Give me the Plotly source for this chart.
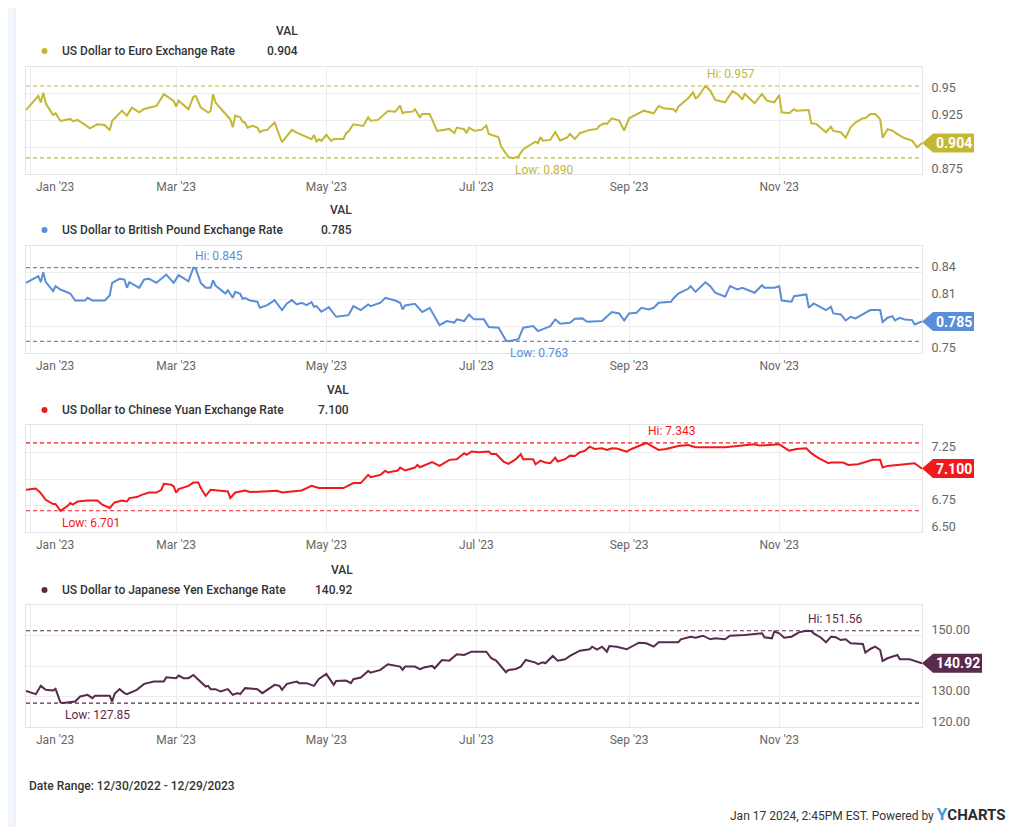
import pandas as pd
import plotly.graph_objects as go

# The page body adds an 8px margin, so the figure is placed at (8, 8) in the window.
OFF = 8
W, H = 1023 - OFF, 827 - OFF
FONT = "Roboto, 'Open Sans', sans-serif"

start_date = "2022-12-30"
end_date = "2023-12-29"

month_ticks = ["2023-01-01", "2023-03-01", "2023-05-01", "2023-07-01", "2023-09-01", "2023-11-01"]
month_labels = ["Jan '23", "Mar '23", "May '23", "Jul '23", "Sep '23", "Nov '23"]

# ---- data (day offsets from start_date, values) ----
eur_days = [0,5,6,7,8,11,12,14,18,19,21,26,29,32,34,35,39,41,43,46,48,53,56,60,61,62,66,68,69,71,74,75,76,77,80,83,84,85,87,88,89,90,92,94,95,96,98,101,104,106,108,110,112,116,117,118,119,120,122,124,125,129,130,131,133,137,139,140,143,147,150,152,153,154,157,158,160,161,164,167,172,174,175,178,179,180,182,185,187,188,192,193,196,198,200,202,207,208,209,210,213,215,217,220,221,223,225,229,232,233,235,236,238,241,243,245,251,255,257,259,263,264,265,269,271,272,273,276,278,280,284,287,289,291,292,296,299,301,304,306,307,310,312,313,318,319,321,325,327,328,331,333,335,337,340,341,343,345,347,348,350,352,354,357,360,362,364]
eur_vals = [0.9347,0.9477,0.9415,0.9508,0.9409,0.9300,0.9316,0.9244,0.9263,0.9242,0.9254,0.9176,0.9213,0.9207,0.9158,0.9244,0.9340,0.9294,0.9368,0.9325,0.9356,0.9384,0.9493,0.9430,0.9377,0.9433,0.9353,0.9470,0.9477,0.9368,0.9322,0.9337,0.9493,0.9415,0.9337,0.9260,0.9186,0.9294,0.9279,0.9238,0.9229,0.9182,0.9198,0.9182,0.9139,0.9154,0.9161,0.9229,0.9046,0.9105,0.9161,0.9136,0.9114,0.9074,0.9114,0.9052,0.9074,0.9058,0.9114,0.9058,0.9077,0.9077,0.9130,0.9145,0.9213,0.9198,0.9279,0.9247,0.9254,0.9337,0.9331,0.9387,0.9316,0.9325,0.9331,0.9353,0.9279,0.9310,0.9310,0.9151,0.9170,0.9130,0.9182,0.9167,0.9130,0.9182,0.9154,0.9161,0.9201,0.9123,0.9093,0.9005,0.8907,0.8900,0.8912,0.8981,0.9052,0.9037,0.9093,0.9061,0.9068,0.9139,0.9061,0.9093,0.9123,0.9077,0.9130,0.9161,0.9170,0.9201,0.9223,0.9217,0.9269,0.9247,0.9154,0.9269,0.9340,0.9316,0.9384,0.9363,0.9353,0.9331,0.9377,0.9456,0.9511,0.9456,0.9470,0.9570,0.9526,0.9440,0.9418,0.9523,0.9496,0.9446,0.9496,0.9409,0.9496,0.9433,0.9418,0.9486,0.9325,0.9316,0.9353,0.9340,0.9347,0.9223,0.9217,0.9139,0.9191,0.9151,0.9139,0.9089,0.9186,0.9232,0.9269,0.9269,0.9310,0.9310,0.9260,0.9089,0.9167,0.9154,0.9121,0.9083,0.9061,0.8999,0.9040]

gbp_days = [0,5,6,7,8,10,11,12,14,18,20,24,25,27,32,34,35,38,40,41,42,46,48,50,53,57,60,62,66,68,69,71,73,75,76,77,81,82,84,85,87,88,89,91,94,95,98,101,104,106,108,110,112,114,116,117,118,120,123,126,131,133,136,139,140,144,146,150,152,153,154,158,161,164,168,171,174,175,178,180,182,186,188,192,195,196,198,200,202,206,208,211,213,215,217,221,223,226,228,234,238,241,243,245,248,250,253,255,257,262,263,265,269,270,272,276,278,280,284,286,289,291,296,299,300,304,306,307,311,312,317,318,320,325,327,328,331,333,335,337,341,343,347,348,350,352,353,355,357,360,361,364]
gbp_vals = [0.8280,0.8354,0.8287,0.8398,0.8291,0.8214,0.8187,0.8243,0.8206,0.8162,0.8084,0.8084,0.8114,0.8084,0.8084,0.8140,0.8280,0.8325,0.8317,0.8225,0.8287,0.8225,0.8317,0.8325,0.8280,0.8372,0.8280,0.8365,0.8298,0.8450,0.8436,0.8280,0.8225,0.8225,0.8309,0.8250,0.8162,0.8199,0.8114,0.8180,0.8158,0.8103,0.8110,0.8084,0.8070,0.8003,0.8032,0.8088,0.7977,0.8051,0.8088,0.8040,0.8059,0.8032,0.8066,0.8014,0.8021,0.7959,0.8010,0.7903,0.7921,0.8021,0.7977,0.8040,0.8021,0.8059,0.8114,0.8084,0.8059,0.7984,0.8029,0.8047,0.7955,0.8003,0.7810,0.7855,0.7837,0.7874,0.7855,0.7929,0.7874,0.7874,0.7788,0.7781,0.7640,0.7630,0.7641,0.7652,0.7781,0.7799,0.7744,0.7781,0.7799,0.7874,0.7826,0.7837,0.7881,0.7885,0.7848,0.7855,0.7955,0.7940,0.7862,0.7940,0.7948,0.8003,0.7984,0.8003,0.8059,0.8070,0.8106,0.8162,0.8214,0.8243,0.8180,0.8287,0.8243,0.8170,0.8125,0.8243,0.8206,0.8225,0.8170,0.8254,0.8225,0.8225,0.8243,0.8084,0.8070,0.8132,0.8151,0.8003,0.8051,0.7977,0.8014,0.7940,0.7929,0.7862,0.7903,0.7885,0.7948,0.7977,0.7977,0.7844,0.7892,0.7910,0.7862,0.7892,0.7873,0.7866,0.7818,0.7850]

cny_days = [0,4,6,8,11,12,14,17,18,19,21,25,29,31,34,36,39,41,42,45,47,50,53,55,56,59,60,61,62,66,68,70,71,73,75,79,82,83,85,87,89,91,98,102,104,110,112,116,119,129,133,136,139,140,144,146,147,151,152,154,158,159,160,165,168,172,175,178,179,181,184,188,189,191,194,196,199,201,202,206,207,209,211,213,215,216,219,221,223,225,227,229,231,234,236,238,240,244,246,252,254,257,260,263,265,269,272,284,290,296,298,306,307,310,313,317,319,322,326,327,332,334,338,340,342,344,347,348,350,355,357,361,364]
cny_vals = [6.900,6.912,6.868,6.805,6.765,6.765,6.701,6.749,6.774,6.759,6.789,6.799,6.799,6.758,6.727,6.780,6.799,6.789,6.821,6.831,6.852,6.874,6.874,6.900,6.956,6.947,6.931,6.874,6.906,6.937,6.968,6.968,6.916,6.843,6.900,6.893,6.884,6.821,6.874,6.884,6.893,6.878,6.884,6.890,6.874,6.884,6.893,6.937,6.916,6.916,6.963,6.963,7.041,7.019,7.041,7.080,7.063,7.082,7.110,7.082,7.110,7.135,7.113,7.161,7.126,7.183,7.189,7.246,7.230,7.261,7.255,7.261,7.239,7.239,7.167,7.145,7.189,7.236,7.189,7.189,7.142,7.176,7.157,7.151,7.204,7.167,7.189,7.223,7.220,7.255,7.268,7.308,7.286,7.293,7.277,7.293,7.290,7.261,7.286,7.343,7.315,7.277,7.286,7.302,7.315,7.324,7.302,7.302,7.318,7.331,7.318,7.331,7.315,7.270,7.286,7.293,7.246,7.199,7.151,7.157,7.157,7.135,7.142,7.157,7.167,7.183,7.183,7.110,7.126,7.142,7.142,7.151,7.100]

jpy_days = [0,4,6,8,11,12,14,15,20,22,25,27,28,34,35,36,38,40,41,45,48,52,56,57,61,62,64,66,68,70,73,74,75,77,79,82,84,86,87,89,94,96,101,103,104,106,110,111,114,117,119,122,125,126,130,132,133,136,139,140,144,147,152,153,154,158,160,162,165,166,169,172,175,178,181,187,189,191,194,195,196,199,201,203,207,208,210,211,214,216,219,221,225,229,230,232,234,236,237,240,244,249,252,255,257,265,266,270,272,275,278,280,284,286,292,299,300,303,304,306,308,311,314,317,319,320,323,325,327,329,331,333,335,340,341,343,345,347,348,350,354,355,359,361,364]
jpy_vals = [131.85,130.77,133.49,132.18,131.95,132.51,128.03,127.85,128.36,129.99,130.55,129.47,130.22,130.22,128.36,130.87,132.41,131.10,130.77,132.18,134.14,134.89,134.89,136.33,136.00,136.86,136.00,136.00,137.08,135.45,133.26,133.49,132.41,132.41,131.63,132.41,130.55,131.10,130.77,132.74,132.41,131.10,133.81,133.49,132.18,134.14,134.89,134.37,134.37,133.49,135.78,137.41,133.81,135.12,135.23,134.37,135.68,136.20,138.39,137.83,138.72,140.58,139.80,138.72,139.80,139.80,138.95,139.60,140.02,139.27,141.98,141.76,143.85,143.62,144.70,144.70,142.54,141.76,138.72,137.97,138.72,139.04,139.80,141.98,141.10,140.58,141.23,140.91,143.29,141.76,142.21,143.29,145.02,145.48,146.33,145.35,146.33,144.70,146.56,146.33,145.48,147.64,147.44,146.33,147.77,147.77,148.75,149.60,149.27,149.93,148.75,149.08,148.75,149.93,150.15,150.71,149.40,149.08,151.30,150.71,149.27,149.60,151.04,151.56,151.45,150.71,149.27,147.77,149.60,149.40,148.52,148.75,147.44,147.21,144.37,145.58,146.33,145.25,141.66,142.54,143.62,142.21,142.21,141.66,140.92]

series = [
    dict(name="US Dollar to Euro Exchange Rate", days=eur_days, vals=eur_vals, color="#c4b733",
         fmt="{:.3f}", yrange=[0.875, 0.9747], tickvals=[0.875, 0.9, 0.925, 0.95],
         ticktext=["0.875", "", "0.925", "0.95"]),
    dict(name="US Dollar to British Pound Exchange Rate", days=gbp_days, vals=gbp_vals, color="#5a8ed8",
         fmt="{:.3f}", yrange=[0.75, 0.869], tickvals=[0.75, 0.78, 0.81, 0.84],
         ticktext=["0.75", "", "0.81", "0.84"]),
    dict(name="US Dollar to Chinese Yuan Exchange Rate", days=cny_days, vals=cny_vals, color="#f2191c",
         fmt="{:.3f}", yrange=[6.5, 7.513], tickvals=[6.5, 6.75, 7.0, 7.25],
         ticktext=["6.50", "6.75", "", "7.25"]),
    dict(name="US Dollar to Japanese Yen Exchange Rate", days=jpy_days, vals=jpy_vals, color="#582a4c",
         fmt="{:.2f}", yrange=[120, 160], tickvals=[120, 130, 140, 150],
         ticktext=["120.00", "130.00", "", "150.00"]),
]

# ---- layout geometry (window pixels) ----
plot_left, plot_right = 26, 922
panel_tb = [(67, 174), (246, 353), (425, 532), (605, 727)]
legend_rows = [(31, 51, 300), (210, 230, 354), (390, 410, 351), (570, 590, 355)]
badge_w = [41, 41, 41, 49]


def px(x):
    return (x - OFF) / W


def py(y):
    return 1 - (y - OFF) / H


fig = go.Figure()
shapes, annotations = [], []

# page frame
shapes.append(dict(type="rect", xref="paper", yref="paper", x0=px(15), x1=px(1018), y0=-0.01, y1=1.01,
                   fillcolor="white", line=dict(color="#e3e8ee", width=1), layer="below"))

start = pd.Timestamp(start_date)
tick_text = [""] + month_labels[1:]
TICKFONT = dict(family=FONT, size=12, color="#666666")

for i, s in enumerate(series):
    n = "" if i == 0 else str(i + 1)
    xa, ya = "x" + n, "y" + n
    dates = [start + pd.Timedelta(days=d) for d in s["days"]]
    vals = s["vals"]
    fig.add_trace(go.Scatter(x=dates, y=vals, mode="lines", xaxis=xa, yaxis=ya,
                             line=dict(color=s["color"], width=2), showlegend=False,
                             hoverinfo="skip"))
    top, bot = panel_tb[i]
    fig.update_layout(**{
        "xaxis" + n: dict(domain=[px(plot_left), px(plot_right)], anchor=ya, type="date",
                          range=[start_date, end_date], tickvals=month_ticks, ticktext=tick_text,
                          showgrid=True, gridcolor="#ededed", gridwidth=1, showline=True, mirror=True,
                          linecolor="#e4e4e4", ticks="", zeroline=False, automargin=False,
                          ticklabelstandoff=2, tickfont=TICKFONT),
        "yaxis" + n: dict(domain=[py(bot), py(top)], anchor=xa, side="right", range=s["yrange"],
                          tickvals=s["tickvals"], ticktext=s["ticktext"], showgrid=True,
                          gridcolor="#ededed", showline=True, mirror=True, linecolor="#e4e4e4",
                          ticks="", zeroline=False, ticklabelposition="outside top",
                          ticklabelstandoff=6, ticklabelshift=3, automargin=False,
                          tickfont=dict(family=FONT, size=12.5, color="#666666")),
    })
    # first month label sits just right of its gridline (kept inside the plot's left edge)
    annotations.append(dict(x=month_ticks[0], y=0, xref=xa, yref=ya + " domain", text=month_labels[0],
                            showarrow=False, xanchor="left", yanchor="top", xshift=3, yshift=-4,
                            font=TICKFONT))

    # hi / low lines and labels
    hi = max(vals)
    lo = min(vals)
    hi_date = dates[vals.index(hi)]
    lo_date = dates[vals.index(lo)]
    for v in (hi, lo):
        shapes.append(dict(type="line", xref=xa + " domain", yref=ya, x0=0, x1=1, y0=v, y1=v,
                           line=dict(color=s["color"], width=1.2, dash="4px,3px")))
    annotations.append(dict(x=hi_date, y=hi, xref=xa, yref=ya, text="Hi: " + s["fmt"].format(hi),
                            showarrow=False, xanchor="left", yanchor="bottom", yshift=3,
                            font=dict(family=FONT, size=12, color=s["color"])))
    annotations.append(dict(x=lo_date, y=lo, xref=xa, yref=ya, text="Low: " + s["fmt"].format(lo),
                            showarrow=False, xanchor="left", yanchor="top", yshift=-3,
                            font=dict(family=FONT, size=12, color=s["color"])))

    # last value badge
    last = vals[-1]
    w = badge_w[i]
    shapes.append(dict(type="path", xref=xa + " domain", yref=ya, xsizemode="pixel", ysizemode="pixel",
                       xanchor=1, yanchor=last,
                       path=f"M0,0 L11,9.5 L{11 + w},9.5 L{11 + w},-9.5 L11,-9.5 Z",
                       fillcolor=s["color"], line=dict(width=0), layer="above"))
    annotations.append(dict(x=1, y=last, xref=xa + " domain", yref=ya, text="<b>" + s["fmt"].format(last) + "</b>",
                            showarrow=False, xanchor="center", yanchor="middle", xshift=11 + w / 2,
                            font=dict(family=FONT, size=14, color="white")))

    # legend header row
    vy, ry, rx = legend_rows[i]
    annotations.append(dict(x=px(rx), y=py(vy), xref="paper", yref="paper", text="VAL", showarrow=False,
                            xanchor="right", yanchor="middle",
                            font=dict(family=FONT, size=12, color="#333333", weight=500)))
    annotations.append(dict(x=px(rx), y=py(ry), xref="paper", yref="paper", text=s["fmt"].format(last),
                            showarrow=False, xanchor="right", yanchor="middle",
                            font=dict(family=FONT, size=12, color="#333333", weight=500)))
    annotations.append(dict(x=px(60), y=py(ry), xref="paper", yref="paper", text=s["name"],
                            showarrow=False, xanchor="left", yanchor="middle",
                            font=dict(family=FONT, size=12, color="#333333", weight=500)))
    shapes.append(dict(type="circle", xref="paper", yref="paper", x0=px(41.5), x1=px(47.5),
                       y0=py(ry + 3), y1=py(ry - 3), fillcolor=s["color"], line=dict(width=0)))

# footer
annotations.append(dict(x=px(27), y=py(786), xref="paper", yref="paper",
                        text="Date Range: 12/30/2022 - 12/29/2023", showarrow=False,
                        xanchor="left", yanchor="middle",
                        font=dict(family=FONT, size=12, color="#333333", weight=500)))
annotations.append(dict(x=px(1008), y=py(826), xref="paper", yref="paper",
                        text="Jan 17 2024, 2:45PM EST. Powered by "
                             "<span style='font-size:17px;color:#3d9be0'><b>Y</b></span>"
                             "<span style='font-size:15px;color:#2b2b2b'><b>CHARTS</b></span>",
                        showarrow=False, xanchor="right", yanchor="bottom",
                        font=dict(family=FONT, size=12, color="#333333")))

fig.update_layout(width=W, height=H, margin=dict(l=0, r=0, t=0, b=0, autoexpand=False),
                  paper_bgcolor="#f2f5f9", plot_bgcolor="white",
                  shapes=shapes, annotations=annotations, showlegend=False,
                  font=dict(family=FONT))

fig.write_html("out.html")
